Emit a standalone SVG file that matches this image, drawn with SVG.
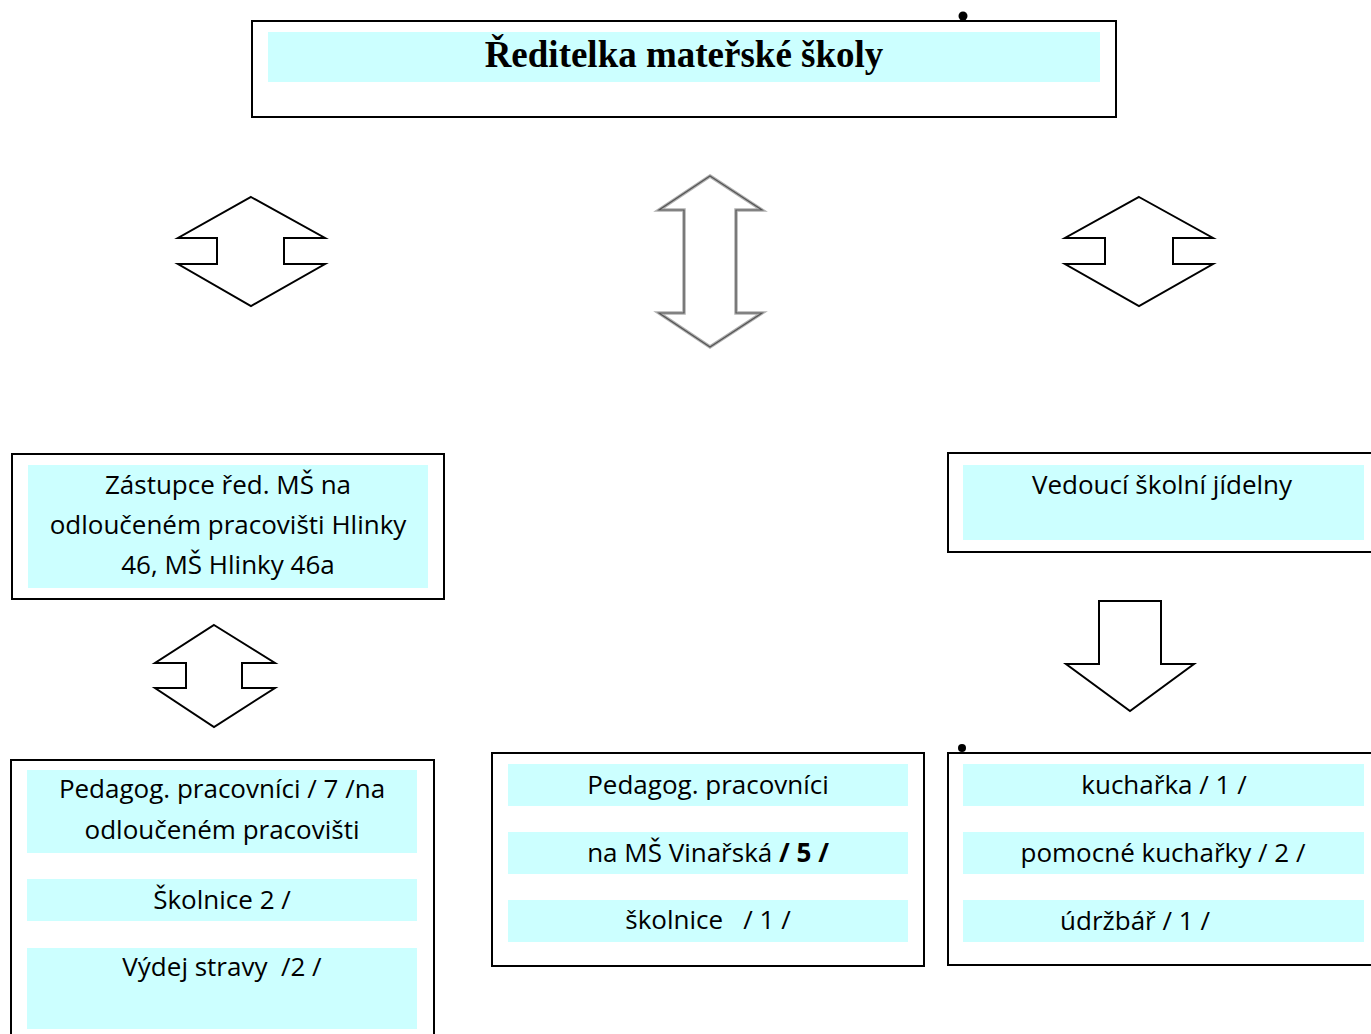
<svg xmlns="http://www.w3.org/2000/svg" width="1371" height="1034" viewBox="0 0 1371 1034">
<style>
.box{fill:#ffffff;stroke:#000000;stroke-width:2}
.band{fill:#ccffff;stroke:none}
.t{font-family:"Open Sans","Liberation Sans",sans-serif;font-size:26px;fill:#000000;text-anchor:middle;white-space:pre}
.title{font-family:"Liberation Serif","Times New Roman",serif;font-size:37px;font-weight:bold;fill:#000000;text-anchor:middle}
.arr{fill:#ffffff;stroke:#000000;stroke-width:2;stroke-linejoin:miter}
.dot{fill:#000000}
</style>
<rect width="1371" height="1034" fill="#ffffff"/>

<g id="connectors">
  <polygon class="arr" points="251,197 325,238 284,238 284,264 325,264 251,306 178,264 217,264 217,238 178,238"/>
  <g id="center-arrow">
    <polygon points="710,176 762,210 736,210 736,313 762,313 710,347 659,313 684,313 684,210 659,210" fill="#ffffff" stroke="#b0b0b0" stroke-width="3.5"/>
    <polygon points="710,176 762,210 736,210 736,313 762,313 710,347 659,313 684,313 684,210 659,210" fill="none" stroke="#555555" stroke-width="1.2"/>
  </g>
  <polygon class="arr" points="1139,197 1213,238 1173,238 1173,264 1213,264 1139,306 1065,264 1105,264 1105,238 1065,238"/>
  <polygon class="arr" points="214,625 275,663 242,663 242,688 275,688 214,727 155,688 186,688 186,663 155,663"/>
  <polygon class="arr" points="1099,601 1161,601 1161,664 1194,664 1130,711 1066,664 1099,664"/>
</g>

<g id="node-reditelka">
  <rect class="box" x="252" y="21" width="864" height="96"/>
  <rect class="band" x="268" y="32" width="832" height="50"/>
  <text class="title" x="684" y="67">Ředitelka mateřské školy</text>
  <circle class="dot" cx="963" cy="16" r="4.5"/>
</g>

<g id="node-zastupce">
  <rect class="box" x="12" y="454" width="432" height="145"/>
  <rect class="band" x="28" y="465" width="400" height="123"/>
  <text class="t" x="228" y="494">Zástupce řed. MŠ na</text>
  <text class="t" x="228" y="534">odloučeném pracovišti Hlinky</text>
  <text class="t" x="228" y="574">46, MŠ Hlinky 46a</text>
</g>

<g id="node-vedouci">
  <rect class="box" x="948" y="453" width="432" height="99"/>
  <rect class="band" x="963" y="465" width="401" height="75"/>
  <text class="t" x="1162" y="494">Vedoucí školní jídelny</text>
</g>

<g id="node-hlinky-staff">
  <rect class="box" x="11" y="760" width="423" height="290"/>
  <rect class="band" x="27" y="770" width="390" height="83"/>
  <rect class="band" x="27" y="879" width="390" height="42"/>
  <rect class="band" x="27" y="948" width="390" height="81"/>
  <text class="t" x="222" y="798">Pedagog. pracovníci / 7 /na</text>
  <text class="t" x="222" y="839">odloučeném pracovišti</text>
  <text class="t" x="222" y="909">Školnice 2 /</text>
  <text class="t" x="222" y="976">Výdej stravy  /2 /</text>
</g>

<g id="node-vinarska-staff">
  <rect class="box" x="492" y="753" width="432" height="213"/>
  <rect class="band" x="508" y="764" width="400" height="42"/>
  <rect class="band" x="508" y="832" width="400" height="42"/>
  <rect class="band" x="508" y="900" width="400" height="42"/>
  <text class="t" x="708" y="794">Pedagog. pracovníci</text>
  <text class="t" x="708" y="862">na MŠ Vinařská <tspan font-weight="bold">/ 5 /</tspan></text>
  <text class="t" x="708" y="929">školnice   / 1 /</text>
</g>

<g id="node-kitchen-staff">
  <rect class="box" x="948" y="753" width="432" height="212"/>
  <rect class="band" x="963" y="764" width="401" height="42"/>
  <rect class="band" x="963" y="832" width="401" height="42"/>
  <rect class="band" x="963" y="900" width="401" height="42"/>
  <text class="t" x="1164" y="794">kuchařka / 1 /</text>
  <text class="t" x="1163" y="862">pomocné kuchařky / 2 /</text>
  <text class="t" x="1135" y="930">údržbář / 1 /</text>
  <circle class="dot" cx="962" cy="748" r="4"/>
</g>
</svg>
